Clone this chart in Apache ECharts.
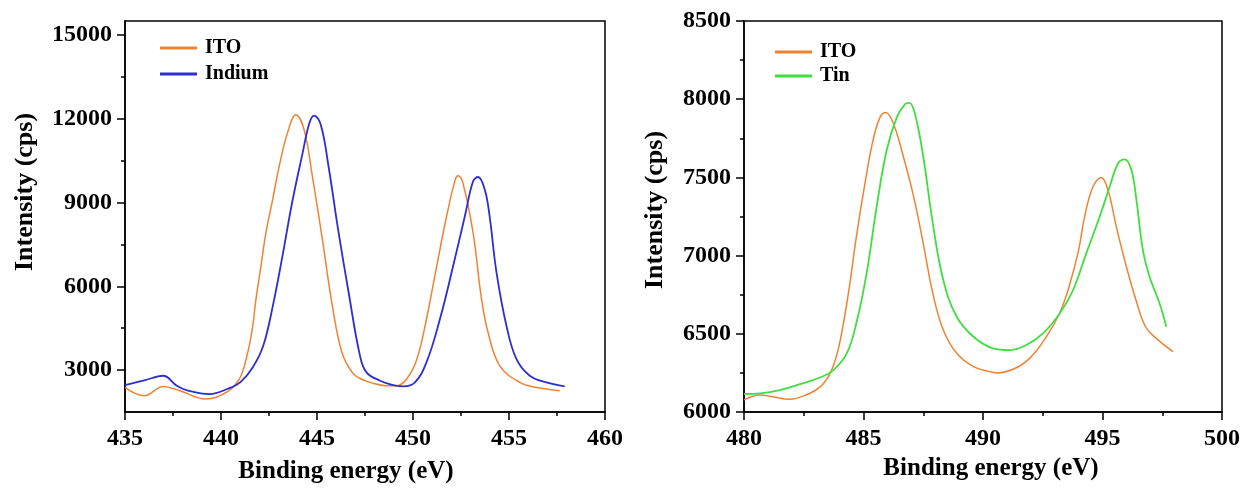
<!DOCTYPE html>
<html>
  <head>
    <meta charset="utf-8" />
    <title>XPS ITO</title>
    <script src="https://cdn.jsdelivr.net/npm/echarts@6/dist/echarts.min.js"></script>
    <style type="text/css">
      html, body { margin: 0; padding: 0; background: #fff; }
    </style>
  </head>
  <body>
    <div id="main" style="width: 1247px; height: 488px"></div>
    <script type="text/javascript">
      // In 3d region: ITO vs Indium
      var itoInX = [435.0, 436.0, 437.0, 437.85, 439.2, 440.27, 440.9, 441.22, 441.6, 441.82,
        442.08, 442.34, 442.69, 443.03, 443.46, 443.9, 444.33, 444.76, 445.28, 445.8,
        446.3, 446.83, 447.24, 447.76, 448.6, 449.15, 449.67, 450.2, 450.7, 451.2,
        451.75, 452.2, 452.35, 452.6, 453.13, 453.57, 453.91, 454.52, 455.56, 456.43, 457.64];
      var itoInY = [2380, 2080, 2417, 2262, 1965, 2200, 2620, 3155, 4345, 5535,
        6725, 7915, 9105, 10295, 11485, 12140, 11600, 9940, 7680, 5300,
        3630, 2917, 2700, 2560, 2440, 2440, 2680, 3390, 4820, 6600,
        8510, 9820, 9960, 9700, 7915, 5540, 4345, 3155, 2560, 2380, 2262];
      var indiumX = [435.0, 436.0, 436.99, 437.7, 438.2, 439.4, 440.4, 441.0, 441.65, 442.2,
        442.7, 443.2, 443.7, 444.25, 444.6, 444.85, 445.2, 445.6, 446.1, 446.65,
        447.24, 447.58, 448.28, 448.97, 449.5, 450.1, 450.7, 451.4, 452.09, 452.7,
        453.13, 453.39, 453.74, 453.99, 454.35, 454.87, 455.39, 456.08, 456.95, 457.9];
      var indiumY = [2464, 2630, 2798, 2440, 2286, 2143, 2345, 2560, 3095, 3870,
        5300, 7080, 8985, 10770, 11840, 12115, 11780, 10300, 8030, 5770,
        3510, 2917, 2620, 2464, 2417, 2560, 3274, 4820, 6725, 8510,
        9760, 9915, 9460, 8510, 6490, 4580, 3390, 2800, 2560, 2417];

      // Sn 3d region: ITO vs Tin
      var itoSnX = [480, 480.67, 481.2, 481.9, 482.6, 483.2, 483.6, 483.9, 484.16, 484.43,
        484.7, 485.06, 485.4, 485.7, 485.93, 486.25, 486.67, 487.1, 487.5, 487.9,
        488.34, 488.9, 489.6, 490.3, 490.6, 491.26, 491.95, 492.65, 493.2, 493.6,
        494.0, 494.25, 494.6, 494.95, 495.23, 495.58, 496.0, 496.4, 496.8, 497.25, 497.95];
      var itoSnY = [6077, 6109, 6098, 6081, 6109, 6162, 6247, 6375, 6567, 6822,
        7120, 7461, 7738, 7887, 7915, 7845, 7632, 7376, 7078, 6758,
        6524, 6375, 6290, 6258, 6250, 6273, 6343, 6481, 6630, 6801,
        7035, 7248, 7440, 7500, 7419, 7184, 6929, 6716, 6545, 6471, 6386];
      var tinX = [480, 480.67, 481.5, 482.34, 483.2, 483.74, 484.3, 484.7, 485.13, 485.55,
        485.97, 486.4, 486.74, 486.92, 487.15, 487.5, 487.9, 488.34, 488.9, 489.6,
        490.42, 491.12, 491.81, 492.51, 493.21, 493.77, 494.32, 494.88, 495.3, 495.65,
        495.93, 496.21, 496.42, 496.69, 496.97, 497.39, 497.67];
      var tinY = [6115, 6119, 6140, 6178, 6222, 6268, 6375, 6567, 6886, 7312,
        7674, 7887, 7968, 7977, 7908, 7632, 7206, 6843, 6609, 6481,
        6407, 6396, 6428, 6503, 6630, 6780, 7014, 7248, 7440, 7589,
        7615, 7546, 7355, 7035, 6865, 6694, 6545];

      // tick values
      var leftYMajor = [3000, 6000, 9000, 12000, 15000];
      var leftYMinor = [4500, 7500, 10500, 13500];

      var FONT = '"Liberation Serif", "Times New Roman", serif';
      var colIto = "#ef8333";
      var colIn = "#2e2ecf";
      var colSn = "#3fdf3f";

      function zip(xs, ys) {
        return xs.map(function (x, i) { return [x, ys[i]]; });
      }
      function plain(v) { return String(v); }

      var labelStyle = { color: "#000", fontFamily: FONT, fontWeight: "bold", fontSize: 24, formatter: plain };
      var lineBlack = { color: "#000", width: 1.5 };

      function xAxisCfg(grid, min, max) {
        return {
          gridIndex: grid, type: "value", min: min, max: max, interval: 5,
          axisLine: { onZero: false, lineStyle: lineBlack },
          axisTick: { length: 8, lineStyle: lineBlack },
          minorTick: { show: true, splitNumber: 2, length: 4, lineStyle: lineBlack },
          splitLine: { show: false },
          axisLabel: Object.assign({ margin: 15 }, labelStyle),
        };
      }

      function lineSeries(name, xi, yi, xs, ys, color, width) {
        return {
          name: name, type: "line", xAxisIndex: xi, yAxisIndex: yi, data: zip(xs, ys),
          smooth: 0.4, symbol: "none", showSymbol: false,
          lineStyle: { color: color, width: width }, itemStyle: { color: color },
        };
      }

      var legendText = { color: "#000", fontFamily: FONT, fontWeight: "bold", fontSize: 20, lineHeight: 20, padding: [0, 0, 0, 3] };

      var myChart = echarts.init(document.getElementById("main"));

      var option = {
        animation: false,
        backgroundColor: "#fff",
        grid: [
          { left: 125, top: 21, width: 480, height: 391, show: true, borderColor: "#000", borderWidth: 1.5 },
          { left: 744, top: 21, width: 478, height: 391, show: true, borderColor: "#000", borderWidth: 1.5 },
        ],
        xAxis: [xAxisCfg(0, 435, 460), xAxisCfg(1, 480, 500)],
        yAxis: [
          {
            gridIndex: 0, type: "value", min: 1500, max: 15500, interval: 1500, position: "left",
            axisLine: { onZero: false, lineStyle: lineBlack },
            axisTick: { length: 8, lineStyle: lineBlack, customValues: leftYMajor },
            splitLine: { show: false },
            axisLabel: Object.assign({ margin: 13, customValues: leftYMajor }, labelStyle),
          },
          {
            gridIndex: 0, type: "value", min: 1500, max: 15500, interval: 1500, position: "left",
            axisLine: { show: false },
            axisTick: { length: 4, lineStyle: lineBlack, customValues: leftYMinor },
            axisLabel: { show: false },
            splitLine: { show: false },
          },
          {
            gridIndex: 1, type: "value", min: 6000, max: 8500, interval: 500,
            axisLine: { onZero: false, lineStyle: lineBlack },
            axisTick: { length: 8, lineStyle: lineBlack },
            minorTick: { show: true, splitNumber: 2, length: 4, lineStyle: lineBlack },
            splitLine: { show: false },
            axisLabel: Object.assign({ margin: 13 }, labelStyle),
          },
        ],
        legend: [
          {
            orient: "vertical", left: 155, top: 33, itemWidth: 37, itemHeight: 3, itemGap: 6,
            icon: "rect", data: ["ITO", "Indium"], textStyle: legendText,
          },
          {
            orient: "vertical", left: 770, top: 37, itemWidth: 37, itemHeight: 3, itemGap: 4,
            icon: "rect", data: ["ITO", "Tin"], textStyle: legendText,
          },
        ],
        graphic: [
          { type: "text", x: 346, y: 472, style: { text: "Binding energy (eV)", align: "center", verticalAlign: "middle", fill: "#000", fontFamily: FONT, fontWeight: "bold", fontSize: 25 } },
          { type: "text", x: 991, y: 469, style: { text: "Binding energy (eV)", align: "center", verticalAlign: "middle", fill: "#000", fontFamily: FONT, fontWeight: "bold", fontSize: 25 } },
          { type: "text", x: 25, y: 192, rotation: Math.PI / 2, style: { text: "Intensity (cps)", align: "center", verticalAlign: "middle", fill: "#000", fontFamily: FONT, fontWeight: "bold", fontSize: 26 } },
          { type: "text", x: 655, y: 210, rotation: Math.PI / 2, style: { text: "Intensity (cps)", align: "center", verticalAlign: "middle", fill: "#000", fontFamily: FONT, fontWeight: "bold", fontSize: 26 } },
        ],
        series: [
          lineSeries("ITO", 0, 0, itoInX, itoInY, colIto, 1.5),
          lineSeries("Indium", 0, 0, indiumX, indiumY, colIn, 1.8),
          lineSeries("ITO", 1, 2, itoSnX, itoSnY, colIto, 1.5),
          lineSeries("Tin", 1, 2, tinX, tinY, colSn, 1.8),
        ],
      };

      myChart.setOption(option);
    </script>
  </body>
</html>
